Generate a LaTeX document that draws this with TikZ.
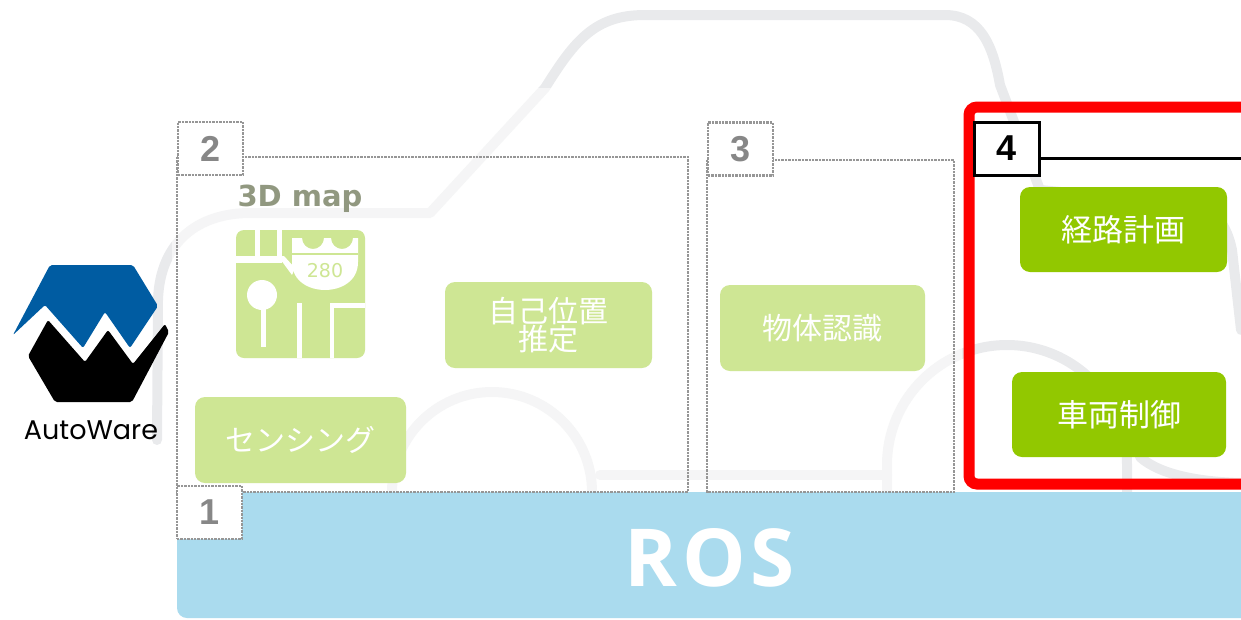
\documentclass[tikz,border=0pt]{standalone}
\usepackage{fontspec}
\setmainfont{Liberation Sans}
\newfontfamily\jpfont{Noto Sans CJK JP}
\newfontfamily\rosfont[LetterSpace=6]{Open Sans}
\newfontfamily\logofont{Poppins}
\newfontfamily\mapfont{DejaVu Sans}

\definecolor{awblue}{RGB}{0,92,162}
\definecolor{leafgreen}{RGB}{146,200,0}
\definecolor{palegreen}{RGB}{206,230,148}
\definecolor{paleblue}{RGB}{170,219,238}
\definecolor{fadeline}{RGB}{150,150,150}
\definecolor{fadetext}{RGB}{135,135,135}
\definecolor{maptext}{RGB}{145,152,128}
\definecolor{carline}{RGB}{233,234,236}

\begin{document}
\begin{tikzpicture}[x=1pt, y=-1pt,
    car/.style = {draw=carline, line width=10pt, line cap=round, line join=round},
    stage/.style = {draw=fadeline, densely dotted, line width=2.4pt},
    tag/.style = {draw=fadeline, densely dotted, line width=2.4pt, fill=white, inner sep=0pt,
                  minimum width=65pt, minimum height=53pt, text=fadetext,
                  font=\bfseries\fontsize{36}{36}\selectfont},
    fadedtask/.style = {fill=palegreen, rounded corners=10pt, inner sep=0pt, text=white,
                        align=center, font=\jpfont\fontsize{30}{27}\selectfont},
    task/.style = {fill=leafgreen, rounded corners=10pt, inner sep=0pt, text=white,
                   font=\jpfont\fontsize{31}{31}\selectfont}]
    \useasboundingbox (0,0) rectangle (1241,619);
    \clip (0,0) rectangle (1241,619);

    % car outline behind everything
    \draw[car] (157,440) -- (158,300) .. controls (160,240) and (200,213) .. (250,213)
        -- (430,213) -- (545,88) .. controls (575,40) and (595,15) .. (645,15)
        -- (945,15) .. controls (980,15) and (993,45) .. (1000,85)
        -- (1040,190) -- (1195,205) .. controls (1215,210) and (1227,225) .. (1232,250)
        -- (1241,330);
    \draw[car] (392,492) arc[start angle=180, end angle=0, radius=100pt];
    \draw[car] (600,475) -- (887,475);
    \draw[car] (887,492) -- (887,465) arc[start angle=180, end angle=0, radius=120pt] -- (1127,492);
    \draw[car] (1140,457) .. controls (1160,475) and (1200,482) .. (1241,483);

    % layers 1-3 are faded out
    \fill[white, opacity=0.55] (172,88) rectangle (962,619);

    % ROS
    \fill[paleblue, rounded corners=10pt] (177,492) rectangle (1262,618);
    \node[text=white, font=\rosfont\bfseries\fontsize{80}{80}\selectfont] (ros) at (710,558) {ROS};

    % layer 2 and 3 frames
    \draw[stage] (177,157) rectangle (688,492);
    \draw[stage] (707,160) rectangle (954,492);

    \node[tag] (tag2) at (210.5,148.5) {2};
    \node[tag] (tag3) at (740.5,149) {3};
    \node[tag] (tag1) at (209.5,512.5) {1};

    % 3D map
    \node[anchor=base west, text=maptext, font=\mapfont\bfseries\fontsize{29}{29}\selectfont] (maplabel) at (234,206) {3D map};
    \fill[palegreen, rounded corners=8pt] (236,230) rectangle (365,358);
    \fill[white] (255,230) rectangle (260,258);
    \fill[white] (277,230) rectangle (282,258);
    \fill[white] (236,256) rectangle (282,263);
    \fill[white] (278,256) -- (284,256) -- (295,268) -- (292,275) -- cycle;
    \fill[white] (292,238) -- (302,238) arc[start angle=180, end angle=360, radius=11pt]
        -- (331,238) arc[start angle=180, end angle=360, radius=11pt]
        -- (358,238) -- (358,262) .. controls (358,282) and (340,290) .. (325,290)
        .. controls (310,290) and (292,282) .. (292,262) -- cycle;
    \draw[palegreen, line width=2.5pt] (292,254) -- (358,254);
    \node[text=palegreen, font=\mapfont\fontsize{19}{19}\selectfont] (route) at (325,271) {280};
    \fill[white] (262,295) circle[radius=15pt];
    \fill[white] (261,300) rectangle (266,347);
    \fill[white] (297,303) rectangle (302,358);
    \fill[white] (330,303) rectangle (365,308);
    \fill[white] (330,303) rectangle (334,358);

    % faded tasks
    \node[fadedtask, minimum width=207pt, minimum height=86pt] (pose) at (548.5,325) {自己位置\\推定};
    \node[fadedtask, minimum width=211pt, minimum height=86pt] (sensing) at (300.5,440) {センシング};
    \node[fadedtask, minimum width=205pt, minimum height=86pt] (object) at (822.5,328) {物体認識};

    % layer 4
    \draw[red, line width=11pt, rounded corners=8pt] (1262,484) -- (969,484) -- (969,107) -- (1262,107);
    \node[tag, draw=black, solid, line width=3pt, text=black] (tag4) at (1006.5,148.5) {4};
    \coordinate (edge4) at (1241,158);
    \draw[line width=3pt] (tag4.east |- edge4) -- (edge4);

    \node[task, minimum width=207pt, minimum height=85pt] (plan) at (1123.5,229.5) {経路計画};
    \node[task, minimum width=214pt, minimum height=85pt] (control) at (1119,414.5) {車両制御};

    % logo
    \fill[awblue, rounded corners=2pt] (50,265) -- (133,265) -- (158,306) -- (130,348) -- (105,312)
        -- (83,348) -- (45,305) -- (13,335) -- cycle;
    \fill[black, rounded corners=2pt] (28,356) -- (48,320) -- (85,362) -- (108,330) -- (133,364)
        -- (165,324) -- (169,332) -- (132,402) -- (55,402) -- cycle;
    \node[font=\logofont\fontsize{27}{27}\selectfont] (awname) at (91,430) {AutoWare};
\end{tikzpicture}
\end{document}
